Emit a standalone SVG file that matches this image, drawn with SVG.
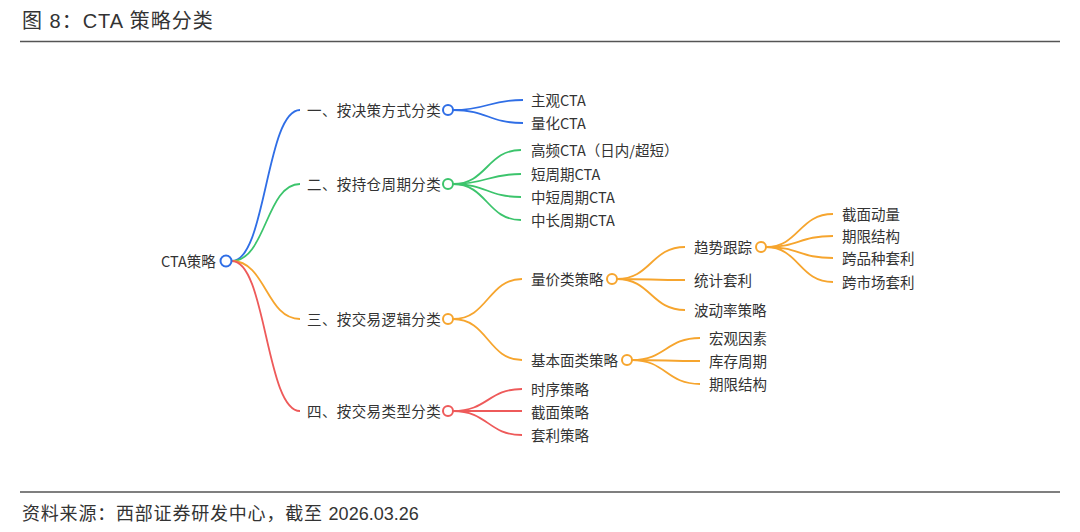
<svg xmlns="http://www.w3.org/2000/svg" width="1080" height="532" viewBox="0 0 1080 532">
<style>
.t{font-family:"Noto Sans CJK SC","Noto Sans",sans-serif;font-size:14.5px;fill:#333;dominant-baseline:central;transform:translateY(-1px)}
.l1{letter-spacing:0.4px}
.c{fill:none;stroke-width:1.8}
.b{stroke:#2f6ee6}.g{stroke:#3cc46c}.o{stroke:#f6a52e}.r{stroke:#ee5a5a}
.n{fill:#fff;stroke-width:2}
.hdr{font-family:"Liberation Sans","Noto Sans CJK SC",sans-serif;fill:#333}
</style>
<rect width="1080" height="532" fill="#fff"/>
<g id="title"><text class="hdr" x="22" y="28" font-size="20" letter-spacing="1">图 8：CTA 策略分类</text></g>
<line x1="20" y1="41.5" x2="1060" y2="41.5" stroke="#555" stroke-width="1.5"/>
<line x1="20" y1="492" x2="1060" y2="492" stroke="#555" stroke-width="1.5"/>
<g id="footer"><text class="hdr" x="22" y="520" font-size="18" letter-spacing="0.8">资料来源：西部证券研发中心，截至 <tspan letter-spacing="0">2026.03.26</tspan></text></g>
<g id="connectors">
<path class="c b" d="M232,261 C266,261 266,110 300,110"/>
<path class="c g" d="M232,261 C266,261 266,184 300,184"/>
<path class="c o" d="M232,261 C266,261 266,319 300,319"/>
<path class="c r" d="M232,261 C266,261 266,411 300,411"/>
<path class="c b" d="M453,110 C488,110 488,100 523,100"/>
<path class="c b" d="M453,110 C488,110 488,123 523,123"/>
<path class="c g" d="M453,184 C487,184 487,150 521,150"/>
<path class="c g" d="M453,184 C487,184 487,174 521,174"/>
<path class="c g" d="M453,184 C487,184 487,197 521,197"/>
<path class="c g" d="M453,184 C487,184 487,220 521,220"/>
<path class="c o" d="M453,319 C488,319 488,279 522,279"/>
<path class="c o" d="M453,319 C488,319 488,360 522,360"/>
<path class="c r" d="M453,411 C488,411 488,389 522,389"/>
<path class="c r" d="M453,411 C488,411 488,411 522,411"/>
<path class="c r" d="M453,411 C488,411 488,435 522,435"/>
<path class="c o" d="M617,279 C651,279 651,247 685,247"/>
<path class="c o" d="M617,279 C651,279 651,280 685,280"/>
<path class="c o" d="M617,279 C651,279 651,310 685,310"/>
<path class="c o" d="M766,247 C799,247 799,214 833,214"/>
<path class="c o" d="M766,247 C799,247 799,236 833,236"/>
<path class="c o" d="M766,247 C799,247 799,258 833,258"/>
<path class="c o" d="M766,247 C799,247 799,282 833,282"/>
<path class="c o" d="M632,360 C666,360 666,338 700,338"/>
<path class="c o" d="M632,360 C666,360 666,361 700,361"/>
<path class="c o" d="M632,360 C666,360 666,384 700,384"/>
</g>
<g id="root"><text class="t" x="161" y="261">CTA策略</text><circle class="n b" cx="226" cy="261" r="5.5"/></g>
<g id="n1"><text class="t l1" x="307" y="110">一、按决策方式分类</text><circle class="n b" cx="448" cy="110" r="5"/></g>
<g id="n2"><text class="t l1" x="307" y="184">二、按持仓周期分类</text><circle class="n g" cx="448" cy="184" r="5"/></g>
<g id="n3"><text class="t l1" x="307" y="319">三、按交易逻辑分类</text><circle class="n o" cx="448" cy="319" r="5"/></g>
<g id="n4"><text class="t l1" x="307" y="411">四、按交易类型分类</text><circle class="n r" cx="448" cy="411" r="5"/></g>
<g id="n1a"><text class="t" x="531" y="100">主观CTA</text></g>
<g id="n1b"><text class="t" x="531" y="123">量化CTA</text></g>
<g id="n2a"><text class="t" x="531" y="150">高频CTA（日内/超短）</text></g>
<g id="n2b"><text class="t" x="531" y="174">短周期CTA</text></g>
<g id="n2c"><text class="t" x="531" y="197">中短周期CTA</text></g>
<g id="n2d"><text class="t" x="531" y="220">中长周期CTA</text></g>
<g id="n3a"><text class="t" x="531" y="279">量价类策略</text><circle class="n o" cx="612" cy="279" r="5"/></g>
<g id="n3b"><text class="t" x="531" y="360">基本面类策略</text><circle class="n o" cx="627" cy="360" r="5"/></g>
<g id="n3a1"><text class="t" x="694" y="247">趋势跟踪</text><circle class="n o" cx="761" cy="247" r="5"/></g>
<g id="n3a2"><text class="t" x="694" y="280">统计套利</text></g>
<g id="n3a3"><text class="t" x="694" y="310">波动率策略</text></g>
<g id="n3a1a"><text class="t" x="842" y="214">截面动量</text></g>
<g id="n3a1b"><text class="t" x="842" y="236">期限结构</text></g>
<g id="n3a1c"><text class="t" x="842" y="258">跨品种套利</text></g>
<g id="n3a1d"><text class="t" x="842" y="282">跨市场套利</text></g>
<g id="n3b1"><text class="t" x="709" y="338">宏观因素</text></g>
<g id="n3b2"><text class="t" x="709" y="361">库存周期</text></g>
<g id="n3b3"><text class="t" x="709" y="384">期限结构</text></g>
<g id="n4a"><text class="t" x="531" y="389">时序策略</text></g>
<g id="n4b"><text class="t" x="531" y="412">截面策略</text></g>
<g id="n4c"><text class="t" x="531" y="435">套利策略</text></g>
</svg>
